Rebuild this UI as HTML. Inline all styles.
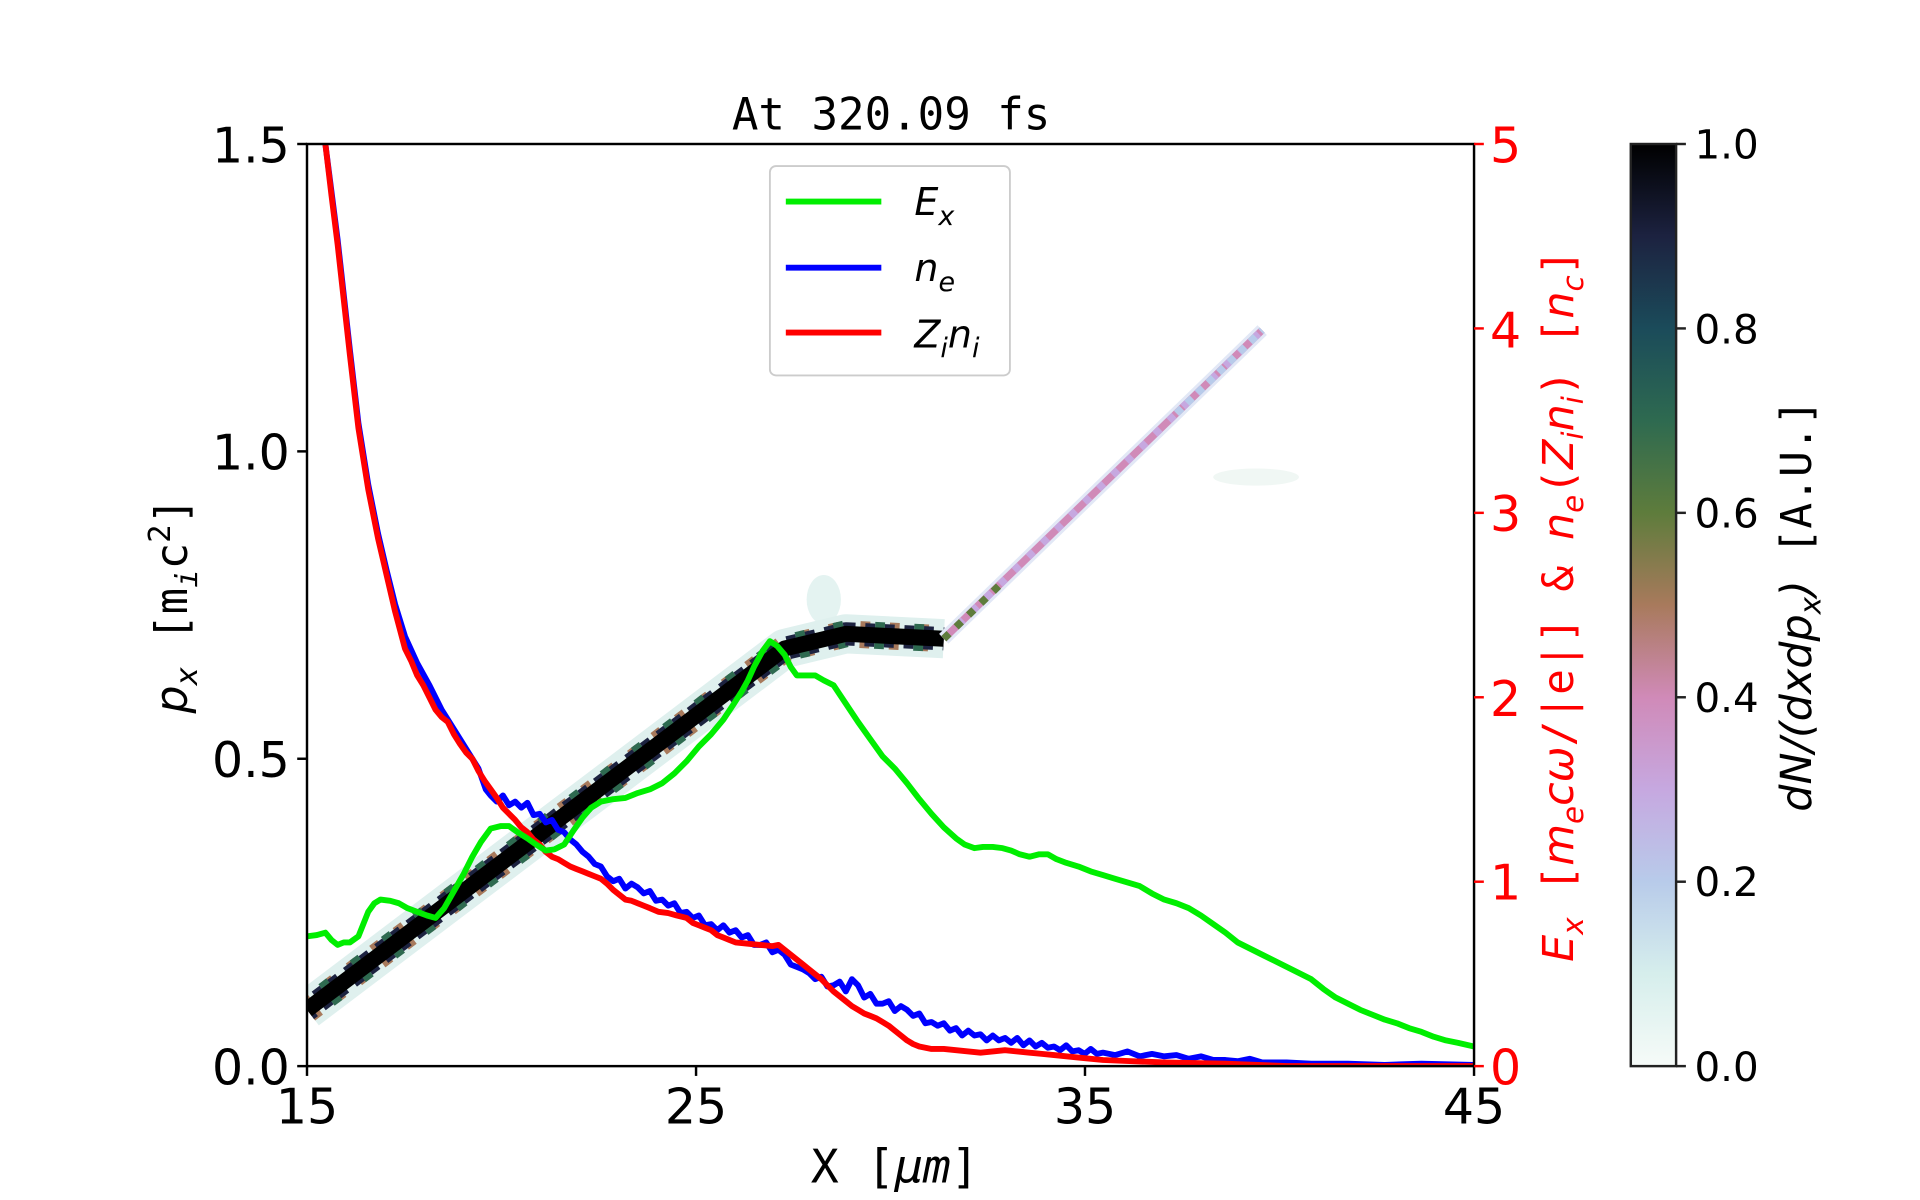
<!DOCTYPE html>
<html><head><meta charset="utf-8"><style>html,body{margin:0;padding:0;background:#fff}svg{display:block}</style></head>
<body>
<svg width="1920" height="1200" viewBox="0 0 1920 1200" xmlns="http://www.w3.org/2000/svg" font-family="DejaVu Sans, Liberation Sans, sans-serif">
<defs>
<linearGradient id="cb" x1="0" y1="1" x2="0" y2="0">
<stop offset="0" stop-color="#f6fbf8"/><stop offset="0.1" stop-color="#d6eeec"/><stop offset="0.2" stop-color="#b8cbea"/><stop offset="0.3" stop-color="#c6a8e0"/><stop offset="0.4" stop-color="#d08ab8"/><stop offset="0.5" stop-color="#a87a5c"/><stop offset="0.6" stop-color="#5e7c3c"/><stop offset="0.7" stop-color="#2e6a50"/><stop offset="0.8" stop-color="#1b4b5a"/><stop offset="0.9" stop-color="#1c2240"/><stop offset="1" stop-color="#000"/>
</linearGradient>
<clipPath id="ax"><rect x="250" y="118" width="953" height="753"/></clipPath>
</defs>
<g transform="translate(307,144) scale(1.2246) translate(-250,-118)">
<g clip-path="url(#ax)" fill="none" stroke-linecap="butt" stroke-linejoin="round">
<ellipse cx="672" cy="490" rx="14" ry="20" fill="#e4f3f1" stroke="none"/>
<ellipse cx="1025" cy="390" rx="35" ry="7" fill="#f0f7f4" stroke="none"/>
<polyline points="250,825 640,530 690,518 770,522" stroke="#dff0ee" stroke-width="32"/>
<polyline points="250,825 640,530 690,518 770,522" stroke="#a87a5c" stroke-width="22" stroke-dasharray="8 16"/>
<polyline points="250,825 640,530 690,518 770,522" stroke="#2e6a50" stroke-width="22" stroke-dasharray="8 24" stroke-dashoffset="12"/>
<polyline points="250,825 640,530 690,518 770,522" stroke="#1c2240" stroke-width="19" stroke-dasharray="8 8" stroke-dashoffset="4"/>
<polyline points="250,825 640,530 690,518 770,522" stroke="#000" stroke-width="13"/>
<polyline points="770,522 1030,270" stroke="#e2e8f6" stroke-width="11"/>
<polyline points="770,522 1030,270" stroke="#d08ab8" stroke-width="6"/>
<polyline points="770,522 1030,270" stroke="#c6a8e0" stroke-width="6" stroke-dasharray="6 10"/>
<polyline points="770,522 820,474" stroke="#5e7c3c" stroke-width="6" stroke-dasharray="6 8"/>
<polyline points="960,338 1030,270" stroke="#b8cbea" stroke-width="6" stroke-dasharray="6 6"/>
</g>
<g clip-path="url(#ax)" fill="none" stroke-width="4.8" stroke-linejoin="round">
<polyline stroke="#0000ff" points="265,118 275,196 285,286 292,346 300,396 308,436 315,466 322,494 330,520 340,542 350,560 360,580 370,596 380,612 390,628 396,645 400,650 405,655 410,650 415,658 420,655 425,660 430,656 435,666 440,665 445,672 450,670 455,678 460,680 465,686 470,690 475,696 480,700 485,706 490,708 495,716 500,720 505,718 510,726 515,722 520,725 525,730 530,728 535,736 540,735 545,740 550,738 555,746 560,745 565,750 570,748 575,756 580,755 585,760 590,756 595,762 600,760 605,766 610,764 615,772 620,772 625,770 630,778 635,776 640,780 645,788 650,790 655,792 660,795 665,800 670,798 675,806 680,805 685,802 690,810 695,800 700,805 705,815 710,812 715,820 720,820 725,818 730,826 735,822 740,825 745,830 750,828 755,836 760,835 765,838 770,836 775,842 780,840 785,846 790,842 795,846 800,845 805,850 810,846 815,850 820,848 825,852 830,848 835,854 840,850 845,855 850,852 855,856 860,855 865,858 870,854 875,859 880,858 885,861 890,857 895,861 900,860 910,862 920,859 930,863 940,861 950,863 960,862 970,865 980,863 990,866 1000,866 1010,867 1020,865 1030,868 1050,868 1070,869 1100,869 1130,870 1160,869 1203,870"/>
<polyline stroke="#ff0000" points="265,118 270,160 275,200 280,245 285,290 292,350 300,400 308,440 315,470 322,500 326,515 330,530 335,540 340,552 345,560 350,570 355,580 360,586 365,590 370,600 375,608 380,615 385,620 390,630 395,638 400,645 405,652 410,660 415,665 420,670 425,676 430,680 435,686 440,690 445,696 450,700 455,702 460,705 465,708 470,710 475,712 480,714 485,716 490,718 495,722 500,727 505,731 510,735 515,736 520,738 525,740 530,742 537,745 545,746 552,748 560,750 565,754 570,756 575,758 580,760 585,764 590,766 595,768 600,770 610,771 620,772 630,773 635,772 640,776 645,780 650,784 655,788 660,792 665,796 670,800 675,805 680,810 685,814 690,818 695,822 700,825 705,828 710,830 715,832 720,835 725,838 730,842 735,846 740,850 745,853 750,855 755,856 760,857 770,857 780,858 790,859 800,860 810,859 820,858 830,859 840,860 850,861 860,862 880,864 900,866 950,868 1000,869 1050,871 1203,871"/>
<polyline stroke="#00ee00" points="250,765 258,764 265,762 270,768 275,772 280,770 285,770 292,765 296,755 300,745 305,738 310,735 318,736 325,738 332,742 340,745 348,748 355,750 362,742 370,728 378,714 385,700 392,688 400,677 408,675 415,675 422,680 430,685 437,690 445,695 452,694 460,690 468,678 475,668 482,660 490,655 500,653 510,652 520,648 530,645 540,640 550,632 560,622 570,610 580,600 590,588 598,576 605,565 610,556 615,545 622,532 628,524 634,528 640,535 645,545 650,552 658,552 665,552 672,556 680,560 690,575 700,590 710,604 720,618 730,628 740,640 750,653 760,665 770,676 780,685 787,690 795,693 802,692 810,692 818,693 825,695 832,698 840,700 848,698 855,698 862,702 870,705 880,708 890,712 900,715 910,718 920,721 930,724 940,730 950,735 960,738 970,742 980,748 990,755 1000,762 1010,770 1020,775 1030,780 1040,785 1050,790 1060,795 1070,800 1080,808 1090,815 1100,820 1110,825 1120,829 1130,833 1140,836 1150,840 1160,843 1170,847 1180,850 1190,852 1203,855"/>
</g>
<rect x="250" y="118" width="953" height="753" fill="none" stroke="#000" stroke-width="2"/>
<g stroke="#000" stroke-width="2">
<line x1="250" y1="871" x2="250" y2="879"/><line x1="567.7" y1="871" x2="567.7" y2="879"/><line x1="885.3" y1="871" x2="885.3" y2="879"/><line x1="1203" y1="871" x2="1203" y2="879"/>
<line x1="242" y1="118" x2="250" y2="118"/><line x1="242" y1="369" x2="250" y2="369"/><line x1="242" y1="620" x2="250" y2="620"/><line x1="242" y1="871" x2="250" y2="871"/>
</g>
<g stroke="#ff0000" stroke-width="2">
<line x1="1203" y1="118" x2="1211" y2="118"/><line x1="1203" y1="268.6" x2="1211" y2="268.6"/><line x1="1203" y1="419.2" x2="1211" y2="419.2"/><line x1="1203" y1="569.8" x2="1211" y2="569.8"/><line x1="1203" y1="720.4" x2="1211" y2="720.4"/><line x1="1203" y1="871" x2="1211" y2="871"/>
</g>
<g font-size="40" fill="#000">
<text x="236" y="133" text-anchor="end">1.5</text><text x="236" y="384" text-anchor="end">1.0</text><text x="236" y="635" text-anchor="end">0.5</text><text x="236" y="886" text-anchor="end">0.0</text>
<text x="250" y="918" text-anchor="middle">15</text><text x="567.7" y="918" text-anchor="middle">25</text><text x="885.3" y="918" text-anchor="middle">35</text><text x="1203" y="918" text-anchor="middle">45</text>
</g>
<g font-size="40" fill="#ff0000">
<text x="1216" y="133">5</text><text x="1216" y="284">4</text><text x="1216" y="434">3</text><text x="1216" y="585">2</text><text x="1216" y="735">1</text><text x="1216" y="886">0</text>
</g>
<text x="727" y="106" font-size="36" text-anchor="middle" font-family="DejaVu Sans Mono, Liberation Mono, monospace">At 320.09 fs</text>
<text x="730" y="966" font-size="38" text-anchor="middle" font-family="DejaVu Sans Mono, Liberation Mono, monospace">X [<tspan font-style="italic">μm</tspan>]</text>
<text transform="translate(152,495) rotate(-90)" font-size="36" text-anchor="middle" font-family="DejaVu Sans Mono, Liberation Mono, monospace"><tspan font-style="italic" font-family="DejaVu Sans">p</tspan><tspan font-style="italic" font-size="25" dy="8" font-family="DejaVu Sans">x</tspan><tspan dy="-8"> [m</tspan><tspan font-style="italic" font-size="25" dy="8">i</tspan><tspan dy="-8">c</tspan><tspan font-size="25" dy="-14">2</tspan><tspan dy="14">]</tspan></text>
<text transform="translate(1284,495) rotate(-90)" font-size="35" text-anchor="middle" fill="#ff0000" font-family="DejaVu Sans Mono, Liberation Mono, monospace"><tspan font-style="italic" font-family="DejaVu Sans">E</tspan><tspan font-style="italic" font-size="24" dy="8" font-family="DejaVu Sans">x</tspan><tspan dy="-8"> [</tspan><tspan font-style="italic" font-family="DejaVu Sans">m</tspan><tspan font-style="italic" font-size="24" dy="8" font-family="DejaVu Sans">e</tspan><tspan dy="-8" font-style="italic" font-family="DejaVu Sans">cω</tspan><tspan>/|e|] &amp; </tspan><tspan font-style="italic" font-family="DejaVu Sans">n</tspan><tspan font-style="italic" font-size="24" dy="8" font-family="DejaVu Sans">e</tspan><tspan dy="-8">(</tspan><tspan font-style="italic" font-family="DejaVu Sans">Z</tspan><tspan font-style="italic" font-size="24" dy="8" font-family="DejaVu Sans">i</tspan><tspan dy="-8" font-style="italic" font-family="DejaVu Sans">n</tspan><tspan font-style="italic" font-size="24" dy="8" font-family="DejaVu Sans">i</tspan><tspan dy="-8">) [</tspan><tspan font-style="italic" font-family="DejaVu Sans">n</tspan><tspan font-style="italic" font-size="24" dy="8" font-family="DejaVu Sans">c</tspan><tspan dy="-8">]</tspan></text>
<rect x="1331" y="118" width="37" height="753" fill="url(#cb)" stroke="#222" stroke-width="2"/>
<g stroke="#222" stroke-width="2">
<line x1="1368" y1="118" x2="1376" y2="118"/><line x1="1368" y1="268.6" x2="1376" y2="268.6"/><line x1="1368" y1="419.2" x2="1376" y2="419.2"/><line x1="1368" y1="569.8" x2="1376" y2="569.8"/><line x1="1368" y1="720.4" x2="1376" y2="720.4"/><line x1="1368" y1="871" x2="1376" y2="871"/>
</g>
<g font-size="33" fill="#000">
<text x="1383" y="130">1.0</text><text x="1383" y="281">0.8</text><text x="1383" y="431">0.6</text><text x="1383" y="582">0.4</text><text x="1383" y="732">0.2</text><text x="1383" y="883">0.0</text>
</g>
<text transform="translate(1478,495) rotate(-90)" font-size="35" text-anchor="middle" font-family="DejaVu Sans Mono, Liberation Mono, monospace"><tspan font-style="italic" font-family="DejaVu Sans">dN</tspan><tspan font-style="italic" font-family="DejaVu Sans">/(dxdp</tspan><tspan font-style="italic" font-size="24" dy="8" font-family="DejaVu Sans">x</tspan><tspan dy="-8" font-family="DejaVu Sans" font-style="italic">)</tspan><tspan> [A.U.]</tspan></text>
<rect x="628" y="136" width="196" height="171" rx="5" fill="#fff" fill-opacity="0.85" stroke="#ccc" stroke-width="1.5"/>
<line x1="641" y1="165" x2="719" y2="165" stroke="#00ee00" stroke-width="4.8"/>
<line x1="641" y1="219" x2="719" y2="219" stroke="#0000ff" stroke-width="4.8"/>
<line x1="641" y1="272" x2="719" y2="272" stroke="#ff0000" stroke-width="4.8"/>
<g font-size="31" font-style="italic" fill="#000">
<text x="746" y="176">E<tspan font-size="22" dy="8">x</tspan></text>
<text x="746" y="230">n<tspan font-size="22" dy="8">e</tspan></text>
<text x="746" y="284">Z<tspan font-size="22" dy="8">i</tspan><tspan dy="-8">n</tspan><tspan font-size="22" dy="8">i</tspan></text>
</g>
</g>
</svg>
</body></html>
